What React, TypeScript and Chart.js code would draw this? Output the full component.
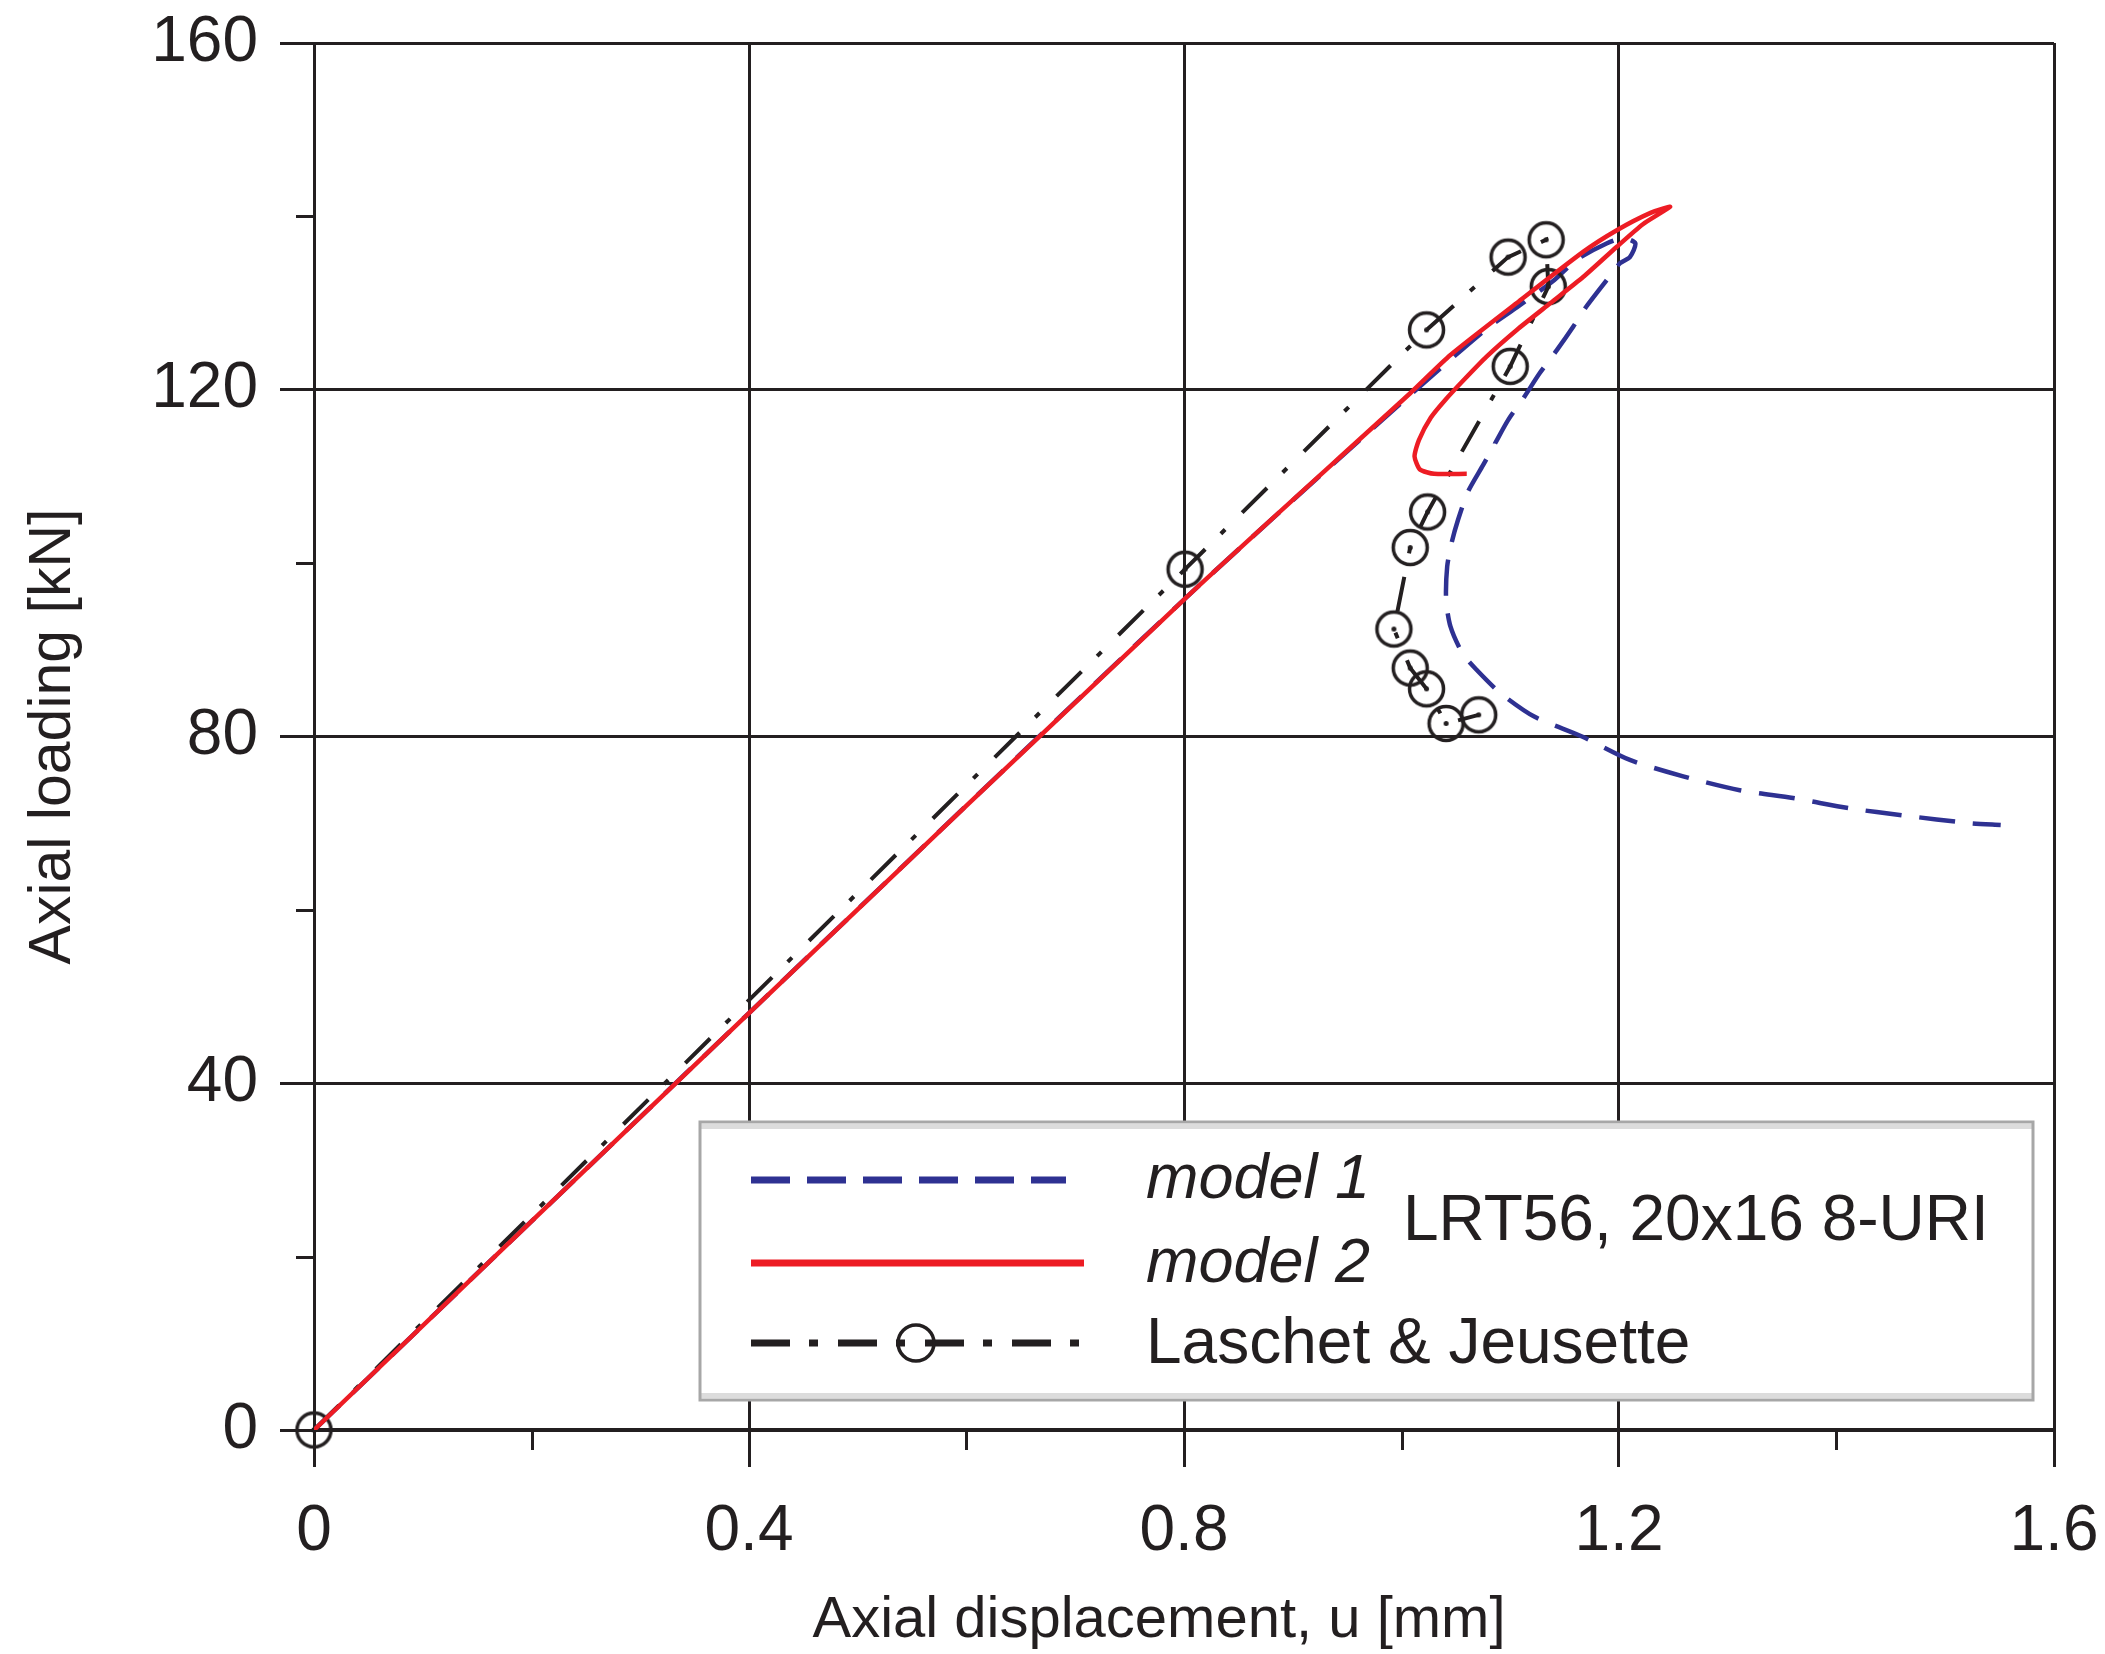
import React, { useEffect, useRef } from "react";
import { Chart, registerables } from "chart.js";

Chart.register(...registerables);

// ---- axis ticks ----
const xTicks = [0, 0.4, 0.8, 1.2, 1.6];
const xTickLabels = ["0", "0.4", "0.8", "1.2", "1.6"];
const yTicks = [0, 40, 80, 120, 160];
const yTickLabels = ["0", "40", "80", "120", "160"];
const xMinorTicks = [0.2, 0.6, 1.0, 1.4];
const yMinorTicks = [20, 60, 100, 140];

const xTitle = "Axial displacement, u [mm]";
const yTitle = "Axial loading [kN]";
const seriesNames = ["model 1", "model 2", "Laschet & Jeusette"];
const legendNote = "LRT56, 20x16 8-URI";

// ---- series: model 1 (blue dashed) ----
const model1X = [0, 0.4, 0.8, 1.008, 1.078, 1.106, 1.14, 1.161, 1.189, 1.204, 1.215, 1.21, 1.201, 1.189, 1.17, 1.158, 1.143, 1.127, 1.113, 1.098, 1.086, 1.075, 1.061, 1.052, 1.046, 1.042, 1.041, 1.045, 1.056, 1.069, 1.091, 1.122, 1.166, 1.21, 1.259, 1.311, 1.36, 1.413, 1.461, 1.523, 1.551];
const model1Y = [0, 48.1, 95.8, 119.4, 127.0, 129.5, 132.6, 135.0, 136.9, 137.5, 136.9, 135.3, 134.6, 132.7, 129.6, 127.3, 124.6, 121.9, 119.2, 116.5, 113.8, 111.3, 108.2, 105.0, 102.3, 99.6, 95.8, 92.7, 89.6, 87.7, 85.0, 82.3, 80.0, 77.3, 75.4, 73.8, 72.9, 71.7, 70.9, 70.0, 69.8];

// ---- series: model 2 (red solid) ----
const model2X = [0, 0.4, 0.8, 1.008, 1.045, 1.106, 1.167, 1.198, 1.229, 1.247, 1.222, 1.198, 1.167, 1.137, 1.106, 1.078, 1.057, 1.04, 1.027, 1.016, 1.012, 1.017, 1.03, 1.06];
const model2Y = [0, 48.1, 95.8, 119.6, 124.0, 130.0, 135.9, 138.4, 140.4, 141.1, 139.1, 136.5, 133.0, 130.0, 126.9, 123.8, 121.1, 118.8, 116.8, 114.2, 112.3, 110.8, 110.3, 110.3];

// ---- series: Laschet & Jeusette (black dash-dot with circles) ----
const laschetX = [0, 0.801, 1.023, 1.098, 1.133, 1.135, 1.1, 1.024, 1.008, 0.993, 1.008, 1.023, 1.041, 1.071];
const laschetY = [0, 99.3, 126.9, 135.3, 137.3, 131.9, 122.7, 105.9, 101.8, 92.4, 87.9, 85.5, 81.5, 82.5];

const BLUE = "#2E3192";
const RED = "#ED1C24";
const INK = "#231F20";
const FONT = "'Liberation Sans', Arial, Helvetica, sans-serif";

const toPoints = (xs: number[], ys: number[]) => xs.map((x, i) => ({ x, y: ys[i] }));

function makeMarker(r: number, lw: number): HTMLCanvasElement {
  const size = Math.ceil(2 * (r + lw));
  const c = document.createElement("canvas");
  c.width = size;
  c.height = size;
  const g = c.getContext("2d")!;
  g.strokeStyle = INK;
  g.lineWidth = lw;
  g.beginPath();
  g.arc(size / 2, size / 2, r, 0, Math.PI * 2);
  g.stroke();
  g.fillStyle = INK;
  g.beginPath();
  g.arc(size / 2, size / 2, 2.5, 0, Math.PI * 2);
  g.fill();
  return c;
}

const zeroPad = (s: any) => {
  s.paddingTop = 0;
  s.paddingBottom = 0;
  s.paddingLeft = 0;
  s.paddingRight = 0;
};

const minorTicksPlugin = {
  id: "minorTicks",
  afterDraw(chart: any) {
    const ctx = chart.ctx;
    const xs = chart.scales.x;
    const ys = chart.scales.y;
    const a = chart.chartArea;
    ctx.save();
    ctx.strokeStyle = INK;
    ctx.lineWidth = 3;
    xMinorTicks.forEach((v) => {
      const px = Math.round(xs.getPixelForValue(v)) + 0.5;
      ctx.beginPath();
      ctx.moveTo(px, a.bottom);
      ctx.lineTo(px, a.bottom + 20);
      ctx.stroke();
    });
    yMinorTicks.forEach((v) => {
      const py = Math.round(ys.getPixelForValue(v)) + 0.5;
      ctx.beginPath();
      ctx.moveTo(a.left - 18, py);
      ctx.lineTo(a.left, py);
      ctx.stroke();
    });
    // x axis title (slightly left of the axis centre, as in the original)
    ctx.fillStyle = INK;
    ctx.font = `58px ${FONT}`;
    ctx.textAlign = "center";
    ctx.textBaseline = "middle";
    ctx.fillText(xTitle, (a.left + a.right) / 2 - 25, 1621);
    ctx.restore();
  },
};

const legendPlugin = {
  id: "boxLegend",
  afterDraw(chart: any) {
    const ctx = chart.ctx;
    const L = 700, T = 1122, R = 2033, B = 1400;
    ctx.save();
    ctx.fillStyle = "#ffffff";
    ctx.fillRect(L, T, R - L, B - T);
    ctx.fillStyle = "#dcdcdc";
    ctx.fillRect(L, T + 2, R - L, 5);
    ctx.fillRect(L, B - 7, R - L, 5);
    ctx.strokeStyle = "#a7a7a7";
    ctx.lineWidth = 3;
    ctx.strokeRect(L, T, R - L, B - T);

    // model 1 line
    ctx.lineCap = "butt";
    ctx.strokeStyle = BLUE;
    ctx.lineWidth = 7;
    ctx.setLineDash([39, 17]);
    ctx.beginPath();
    ctx.moveTo(751, 1180);
    ctx.lineTo(1066, 1180);
    ctx.stroke();
    // model 2 line
    ctx.strokeStyle = RED;
    ctx.lineWidth = 7;
    ctx.setLineDash([]);
    ctx.beginPath();
    ctx.moveTo(751, 1263);
    ctx.lineTo(1084, 1263);
    ctx.stroke();
    // laschet line
    ctx.strokeStyle = INK;
    ctx.lineWidth = 7;
    ctx.setLineDash([39, 19, 9, 20]);
    ctx.beginPath();
    ctx.moveTo(751, 1343);
    ctx.lineTo(1082, 1343);
    ctx.stroke();
    ctx.setLineDash([]);
    ctx.lineWidth = 3.5;
    ctx.beginPath();
    ctx.arc(916, 1343, 18, 0, Math.PI * 2);
    ctx.stroke();

    ctx.fillStyle = INK;
    ctx.textBaseline = "alphabetic";
    ctx.textAlign = "left";
    ctx.font = `italic 63px ${FONT}`;
    ctx.fillText(seriesNames[0], 1146, 1198);
    ctx.fillText(seriesNames[1], 1146, 1282);
    ctx.font = `64px ${FONT}`;
    ctx.fillText(seriesNames[2], 1146, 1363);
    ctx.fillText(legendNote, 1403, 1240);
    ctx.restore();
  },
};

export default function App() {
  const ref = useRef<HTMLCanvasElement | null>(null);

  useEffect(() => {
    if (!ref.current) return;
    const marker = makeMarker(17, 3.5);
    const chart = new Chart(ref.current, {
      type: "scatter",
      data: {
        datasets: [
          {
            label: seriesNames[1],
            data: toPoints(model2X, model2Y),
            showLine: true,
            borderColor: RED,
            borderWidth: 4.5,
            pointRadius: 0,
            tension: 0.2,
            fill: false,
          },
          {
            label: seriesNames[2],
            data: toPoints(laschetX, laschetY),
            showLine: true,
            borderColor: INK,
            borderWidth: 4,
            borderDash: [35, 22, 6, 24],
            pointStyle: marker as any,
            pointRadius: 18,
            tension: 0,
            fill: false,
            clip: false as any,
          },
          {
            label: seriesNames[0],
            data: toPoints(model1X, model1Y),
            showLine: true,
            borderColor: BLUE,
            borderWidth: 4.5,
            borderDash: [36, 18],
            pointRadius: 0,
            tension: 0.25,
            fill: false,
          },
        ],
      },
      options: {
        animation: false,
        responsive: false,
        events: [],
        layout: { autoPadding: false, padding: { left: 0, right: 51, top: 43, bottom: 0 } },
        plugins: {
          legend: { display: false },
          tooltip: { enabled: false },
        },
        scales: {
          x: {
            type: "linear",
            min: 0,
            max: 1.6,
            afterBuildTicks: (s: any) => {
              s.ticks = xTicks.map((v) => ({ value: v }));
            },
            afterFit: (s: any) => {
              s.height = 224;
              zeroPad(s);
            },
            ticks: {
              autoSkip: false,
              maxRotation: 0,
              padding: 27,
              color: INK,
              font: { family: FONT, size: 64 },
              callback: (v: any) => {
                const i = xTicks.findIndex((t) => Math.abs(t - Number(v)) < 1e-9);
                return i >= 0 ? xTickLabels[i] : "";
              },
            },
            grid: {
              color: INK,
              lineWidth: 3,
              tickLength: 37,
              tickColor: INK,
              tickWidth: 3,
            },
            border: { display: true, color: INK, width: 4 },
            title: { display: false },
          },
          y: {
            type: "linear",
            min: 0,
            max: 160,
            afterBuildTicks: (s: any) => {
              s.ticks = yTicks.map((v) => ({ value: v }));
            },
            afterFit: (s: any) => {
              s.width = 314;
              zeroPad(s);
            },
            ticks: {
              autoSkip: false,
              padding: 22,
              color: INK,
              font: { family: FONT, size: 64 },
              callback: (v: any) => {
                const i = yTicks.findIndex((t) => Math.abs(t - Number(v)) < 1e-9);
                return i >= 0 ? yTickLabels[i] : "";
              },
            },
            grid: {
              color: INK,
              lineWidth: 3,
              tickLength: 34,
              tickColor: INK,
              tickWidth: 3,
            },
            border: { display: true, color: INK, width: 3 },
            title: {
              display: true,
              text: yTitle,
              color: INK,
              font: { family: FONT, size: 59, lineHeight: 1.1 },
              padding: { top: 21, bottom: 0 },
            },
          },
        },
      } as any,
      plugins: [minorTicksPlugin, legendPlugin],
    });
    return () => chart.destroy();
  }, []);

  return (
    <div style={{ position: "absolute", left: 0, top: 0, width: 2105, height: 1654, background: "#fff" }}>
      <canvas ref={ref} width={2105} height={1654} style={{ display: "block" }} />
    </div>
  );
}
